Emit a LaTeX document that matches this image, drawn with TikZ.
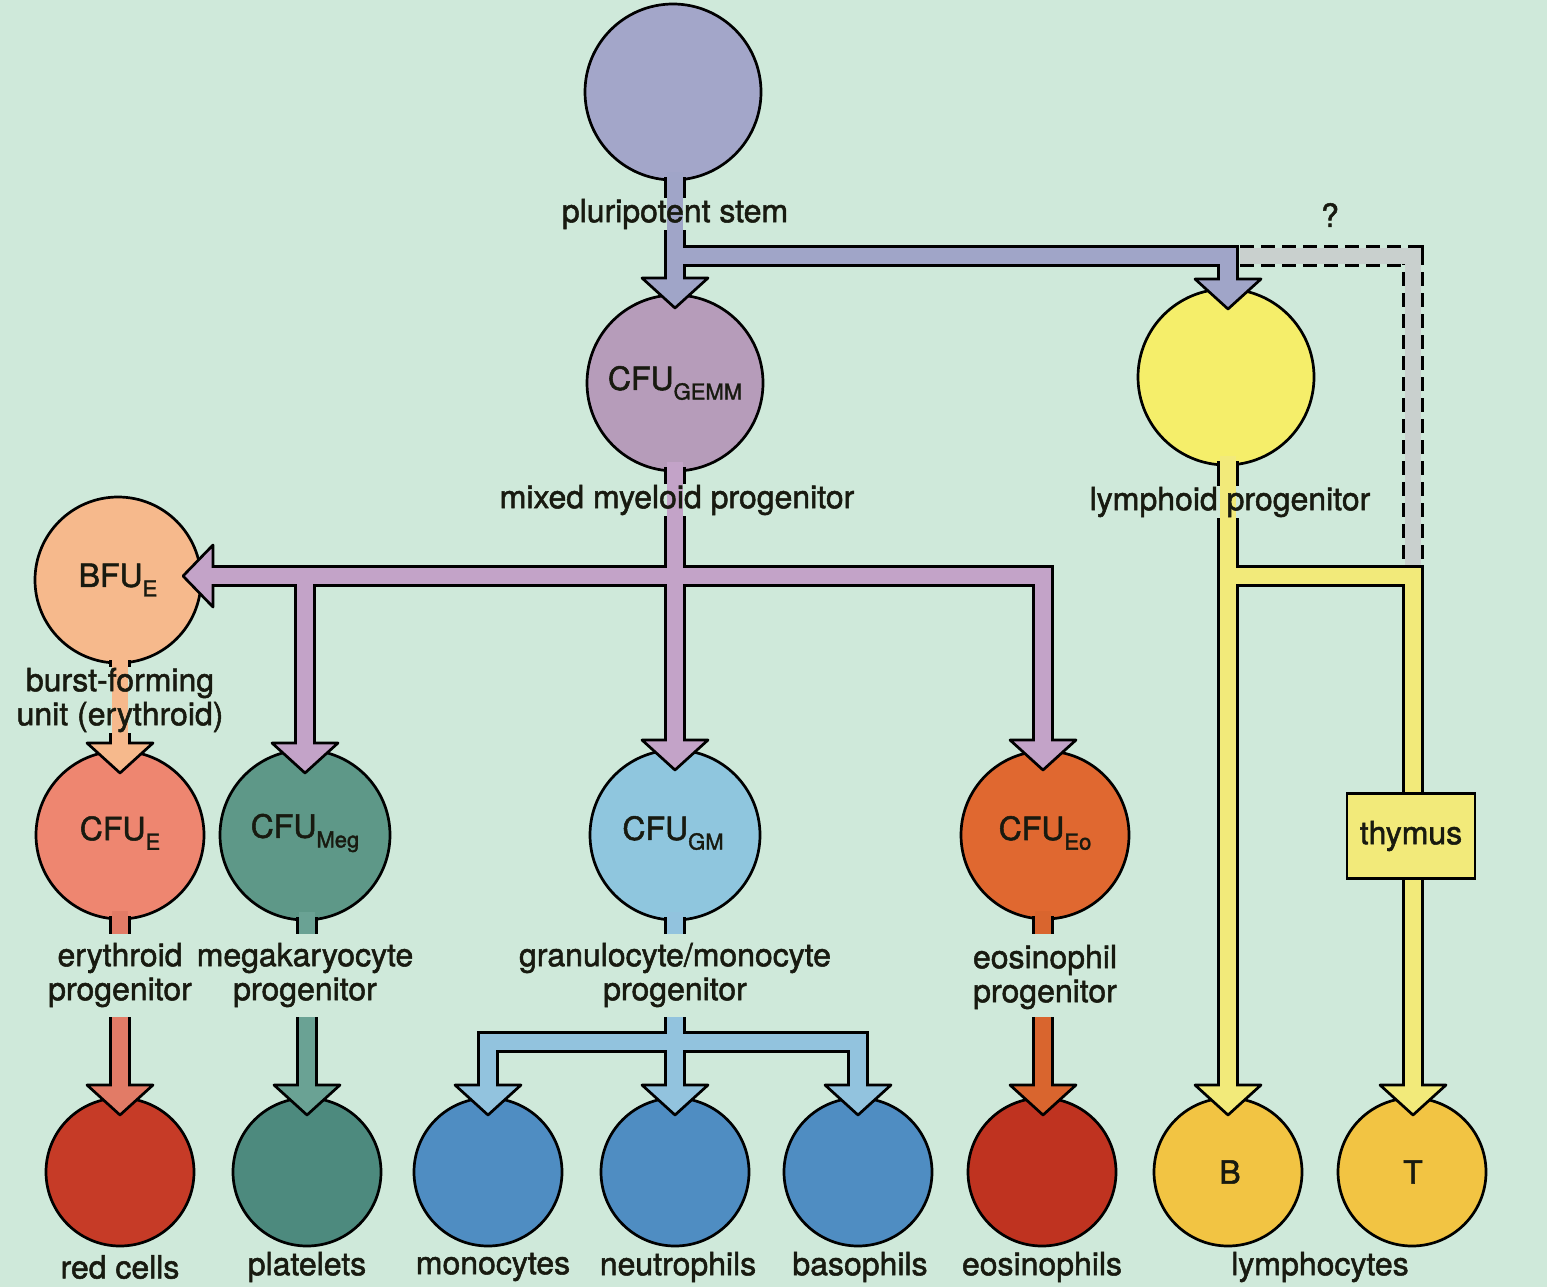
\documentclass[tikz,border=0pt]{standalone}
\usepackage{fontspec}
\setmainfont{TeX Gyre Heros}[FakeBold=1.6]
\definecolor{bg}{HTML}{CFE9DA}
\definecolor{ink}{HTML}{181A10}
\definecolor{stemc}{HTML}{A3A6C9}
\definecolor{stempipe}{HTML}{A0A5C8}
\definecolor{gemmc}{HTML}{B69CBA}
\definecolor{mypipe}{HTML}{C3A3C8}
\definecolor{lymc}{HTML}{F5EE6A}
\definecolor{ypipe}{HTML}{F2EA7A}
\definecolor{bfuc}{HTML}{F6B98C}
\definecolor{cfuec}{HTML}{EE8670}
\definecolor{megc}{HTML}{5E9888}
\definecolor{gmc}{HTML}{8FC6DE}
\definecolor{eoc}{HTML}{E06830}
\definecolor{redc}{HTML}{C63B27}
\definecolor{pltc}{HTML}{4D8A7E}
\definecolor{bluec}{HTML}{4F8DC2}
\definecolor{eosc}{HTML}{BF3320}
\definecolor{bc}{HTML}{F2C443}
\definecolor{dashc}{HTML}{C9D0CE}
\definecolor{erypipe}{HTML}{E27B66}
\definecolor{megpipe}{HTML}{6AA294}
\definecolor{gmpipe}{HTML}{92C3DE}
\definecolor{eopipe}{HTML}{D9652E}
\newcommand\lsub[1]{\raisebox{-0.3em}{\fontsize{22}{22}\selectfont #1}}
\newcommand\arrdown[3]{\filldraw[fill=#3,draw=black,line width=2.7pt,line join=round] (#1-33,#2) -- (#1+33,#2) -- (#1,#2+30) -- cycle;}
\begin{document}
\begin{tikzpicture}[x=1pt,y=-1pt,
  cell/.style={circle,draw=black,line width=2.7pt,inner sep=0pt},
  lab/.style={font=\fontsize{32}{34}\selectfont,text=ink,align=center,inner sep=1pt},
  labbox/.style={lab,fill=bg,text opacity=0},
  pout/.style={line width=21.5pt,draw=black,line join=miter},
  pin/.style={line width=16pt,draw=#1,line join=miter},
  celltext/.style={font=\fontsize{32}{34}\selectfont,text=ink}
]
\useasboundingbox (0,0) rectangle (1547,1287);
\fill[bg] (0,0) rectangle (1547,1287);

% ---------- cells ----------
\node[cell,fill=stemc,minimum size=176pt] (stem) at (673,92) {};
\node[cell,fill=gemmc,minimum size=176pt] (gemm) at (675,383) {};
\node[cell,fill=lymc,minimum size=176pt] (lym) at (1226,377) {};
\node[cell,fill=bfuc,minimum size=166pt] (bfu) at (118,580) {};
\node[cell,fill=cfuec,minimum size=168pt] (cfue) at (120,835) {};
\node[cell,fill=megc,minimum size=170pt] (meg) at (305,835) {};
\node[cell,fill=gmc,minimum size=170pt] (gm) at (675,835) {};
\node[cell,fill=eoc,minimum size=168pt] (eo) at (1045,835) {};
\node[cell,fill=redc,minimum size=148pt] (red) at (120,1172) {};
\node[cell,fill=pltc,minimum size=148pt] (plt) at (307,1172) {};
\node[cell,fill=bluec,minimum size=148pt] (mono) at (488,1172) {};
\node[cell,fill=bluec,minimum size=148pt] (neut) at (675,1172) {};
\node[cell,fill=bluec,minimum size=148pt] (baso) at (858,1172) {};
\node[cell,fill=eosc,minimum size=148pt] (eos) at (1042,1172) {};
\node[cell,fill=bc,minimum size=148pt] (bcell) at (1228,1172) {};
\node[cell,fill=bc,minimum size=148pt] (tcell) at (1412,1172) {};

% ---------- coordinates ----------
\coordinate (s0) at (675,177);
\coordinate (sj) at (675,256);
\coordinate (s1) at (675,280);
\coordinate (sc) at (1228,256);
\coordinate (l1) at (1228,281);
\coordinate (g0) at (675,467);
\coordinate (gj) at (675,576);
\coordinate (g1) at (675,742);
\coordinate (hl) at (211,576);
\coordinate (mj) at (305,576);
\coordinate (m1) at (305,745);
\coordinate (ec) at (1043,576);
\coordinate (e1) at (1043,742);
\coordinate (b0) at (120,660);
\coordinate (b1) at (120,745);
\coordinate (y0) at (1228,461);
\coordinate (yj) at (1228,576);
\coordinate (y1) at (1228,1087);
\coordinate (yc) at (1413,576);
\coordinate (t1) at (1413,1087);
\coordinate (d0) at (1240,256);
\coordinate (dc) at (1413,256);
\coordinate (d1) at (1413,566);

% ---------- dashed pipe ----------
\draw[line width=22pt,black,dash pattern=on 14pt off 7pt,line join=miter] (d0) -- (dc) -- (d1);
\draw[line width=16pt,dashc,line join=miter] (d0) -- (dc) -- (d1);

% ---------- pipe outlines ----------
\draw[pout] (s0) -- (s1);
\draw[pout] (sj) -- (sc) -- (1228,279);
\draw[pout] (g0) -- (g1);
\draw[pout] (hl) -- (ec) -- (e1);
\draw[pout] (mj) -- (m1);
\draw[pout] (b0) -- (b1);
\draw[pout] (y0) -- (y1);
\draw[pout] (yj) -- (yc) -- (t1);
% row 2 stubs and lower pipes
\draw[pout] (120,916) -- (120,934);
\draw[pout] (307,917) -- (307,934);
\draw[pout] (675,917) -- (675,934);
\draw[pout] (1043,916) -- (1043,934);
\draw[pout] (120,1017) -- (120,1087);
\draw[pout] (307,1017) -- (307,1087);
\draw[pout] (675,1017) -- (675,1087);
\draw[pout] (488,1087) -- (488,1042) -- (858,1042) -- (858,1087);
\draw[pout] (1043,1017) -- (1043,1087);

% ---------- label backgrounds ----------
\node[labbox] at (675,214) {pluripotent stem};
\node[labbox] at (677,500) {mixed myeloid progenitor};
\node[labbox] at (1230,502) {lymphoid progenitor};
\node[labbox] at (120,700) {burst-forming\\unit (erythroid)};

% ---------- arrowheads ----------
\arrdown{675}{278}{stempipe}
\arrdown{1228}{279}{stempipe}
\arrdown{675}{740}{mypipe}
\arrdown{305}{743}{mypipe}
\arrdown{1043}{740}{mypipe}
\arrdown{120}{743}{bfuc}
\filldraw[fill=mypipe,draw=black,line width=2.7pt,line join=round] (213,545) -- (213,607) -- (183,576) -- cycle;
\arrdown{1228}{1085}{ypipe}
\arrdown{1413}{1085}{ypipe}
\arrdown{120}{1085}{erypipe}
\arrdown{307}{1085}{megpipe}
\arrdown{488}{1085}{gmpipe}
\arrdown{675}{1085}{gmpipe}
\arrdown{858}{1085}{gmpipe}
\arrdown{1043}{1085}{eopipe}

% ---------- pipe fills ----------
\draw[pin=stempipe] (675,172) -- (675,282);
\draw[pin=stempipe] (sj) -- (sc) -- (l1);
\draw[pin=mypipe] (675,462) -- (675,744);
\draw[pin=mypipe] (hl) -- (ec) -- (1043,744);
\draw[pin=mypipe] (mj) -- (305,747);
\draw[pin=bfuc] (120,655) -- (120,747);
\draw[pin=ypipe] (1228,456) -- (1228,1089);
\draw[pin=ypipe] (yj) -- (yc) -- (1413,1089);
\draw[pin=erypipe] (120,911) -- (120,934);
\draw[pin=megpipe] (307,912) -- (307,934);
\draw[pin=gmpipe] (675,912) -- (675,934);
\draw[pin=eopipe] (1043,911) -- (1043,934);
\draw[pin=erypipe] (120,1017) -- (120,1089);
\draw[pin=megpipe] (307,1017) -- (307,1089);
\draw[pin=gmpipe] (675,1017) -- (675,1089);
\draw[pin=gmpipe] (488,1089) -- (488,1042) -- (858,1042) -- (858,1089);
\draw[pin=eopipe] (1043,1017) -- (1043,1089);

% ---------- thymus ----------
\node[draw=black,line width=2.7pt,fill=ypipe,minimum width=128pt,minimum height=85pt,celltext] (thy) at (1411,836) {thymus};

% ---------- cell texts ----------
\node[celltext] (tgemm) at (675,383) {CFU\lsub{GEMM}};
\node[celltext] (tbfu) at (118,580) {BFU\lsub{E}};
\node[celltext] (tcfue) at (120,833) {CFU\lsub{E}};
\node[celltext] (tmeg) at (305,833) {CFU\lsub{Meg}};
\node[celltext] (tgm) at (673,833) {CFU\lsub{GM}};
\node[celltext] (teo) at (1045,833) {CFU\lsub{Eo}};
\node[celltext] (tb) at (1230,1172) {B};
\node[celltext] (tt) at (1413,1172) {T};

% ---------- labels ----------
\node[lab] (lstem) at (675,214) {pluripotent stem};
\node[lab] (lq) at (1330,215) {?};
\node[lab] (lmix) at (677,500) {mixed myeloid progenitor};
\node[lab] (llym) at (1230,502) {lymphoid progenitor};
\node[lab] (lbfu) at (120,700) {burst-forming\\unit (erythroid)};
\node[lab] (lery) at (120,975) {erythroid\\progenitor};
\node[lab] (lmeg) at (305,975) {megakaryocyte\\progenitor};
\node[lab] (lgm) at (675,975) {granulocyte/monocyte\\progenitor};
\node[lab] (leo) at (1045,977) {eosinophil\\progenitor};
\node[lab] (lred) at (120,1267) {red cells};
\node[lab] (lplt) at (307,1267) {platelets};
\node[lab] (lmono) at (493,1267) {monocytes};
\node[lab] (lneut) at (678,1267) {neutrophils};
\node[lab] (lbaso) at (860,1267) {basophils};
\node[lab] (leos) at (1042,1267) {eosinophils};
\node[lab] (llymph) at (1320,1267) {lymphocytes};
\end{tikzpicture}
\end{document}
